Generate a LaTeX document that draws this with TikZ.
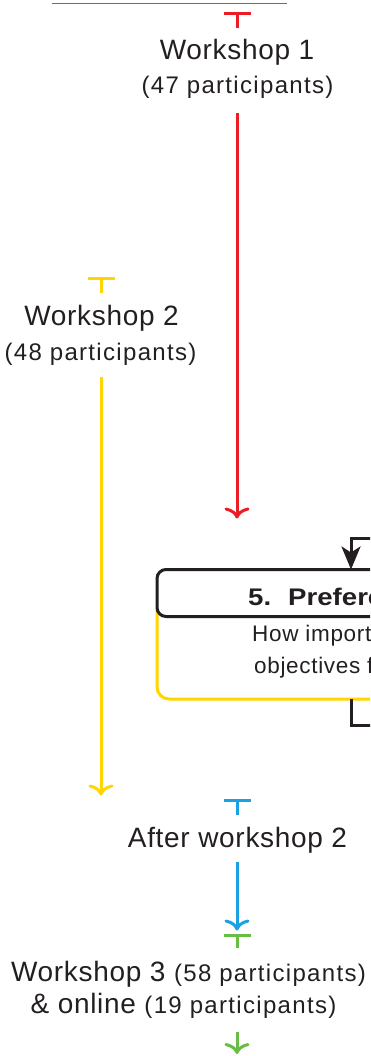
\documentclass[tikz,border=0pt]{standalone}
\usepackage{fontspec}
\usepackage{graphicx}
\setmainfont{Liberation Sans}
\newfontfamily\wsfont[LetterSpace=2.5]{Liberation Sans}
\newfontfamily\ptfont[LetterSpace=5.5]{Liberation Sans}
\newfontfamily\bxfont[LetterSpace=3]{Liberation Sans}
\usetikzlibrary{arrows.meta}
\definecolor{wred}{RGB}{237,28,36}
\definecolor{wyel}{RGB}{255,214,0}
\definecolor{wblue}{RGB}{27,161,226}
\definecolor{wgreen}{RGB}{104,190,69}
\definecolor{wtxt}{RGB}{35,31,32}
\definecolor{wgray}{RGB}{110,110,110}
\tikzset{
  big/.style={anchor=base, inner sep=0pt, text=wtxt, font=\wsfont\fontsize{28}{32}\selectfont},
  small/.style={anchor=base, inner sep=0pt, text=wtxt, font=\ptfont\fontsize{24}{28}\selectfont},
  flow/.style={line width=3pt, -{Computer Modern Rightarrow[length=11pt,width=25pt]}},
  stub/.style={line width=3pt, {Bar[width=27pt]}-},
  hdr/.style={draw=wtxt, fill=white, line width=3pt, rounded corners=9pt, anchor=north west, minimum width=300pt, minimum height=47pt, outer sep=0pt, inner sep=0pt},
  ybox/.style={draw=wyel, fill=white, line width=3pt, rounded corners=12pt, anchor=north west, minimum width=300pt, minimum height=99pt, outer sep=0pt, inner sep=0pt},
  bxt/.style={anchor=base west, inner sep=0pt, text=wtxt, font=\bxfont\fontsize{22.5}{26}\selectfont},
  blk/.style={draw=wtxt, line width=3pt},
}
\begin{document}
\begin{tikzpicture}[x=1pt,y=-1pt]
\useasboundingbox (0,0) rectangle (370,1056);
\clip (0,0) rectangle (370,1056);
% top rule
\coordinate (gl) at (52,3.5);
\coordinate (gr) at (287,3.5);
\draw[wgray, line width=1.5pt] (gl) -- (gr);
% workshop 1
\coordinate (r0) at (237,12);
\coordinate (r1) at (237,28);
\node[big] (w1) at (237,60) {Workshop 1};
\node[small] (w1p) at (237.5,94) {(47 participants)};
\coordinate (r2) at (237,113);
\coordinate (r3) at (237,518.5);
\draw[stub, wred] (r0) -- (r1);
\draw[flow, wred] (r2) -- (r3);
% workshop 2
\coordinate (y0) at (101,277);
\coordinate (y1) at (101,293);
\node[big] (w2) at (101.5,325) {Workshop 2};
\node[small] (w2p) at (100.5,360) {(48 participants)};
\coordinate (y2) at (101,377);
\coordinate (y3) at (101,795.5);
\draw[stub, wyel] (y0) -- (y1);
\draw[flow, wyel] (y2) -- (y3);
% box 5
\node[ybox] (yb) at (157,600) {};
\node[hdr] (hd) at (157,569.5) {};
\node[bxt, font=\bfseries\fontsize{24}{28}\selectfont] (t5) at (248,605.7) {\scalebox{1.15}[1]{5.\hspace{14.8pt}Preferences}};
\node[bxt] (t6) at (252,641.7) {How important};
\node[bxt] (t7) at (254,673) {objectives for};
\coordinate (bin) at (380,538.5);
\coordinate (btop) at (351,569.5);
\coordinate (bout) at (380,725);
\draw[blk, -{Stealth[length=23pt,width=19pt,inset=6pt]}] (bin) -| (btop);
\draw[blk] (yb.south -| btop) |- (bout);
% after workshop 2
\coordinate (b0) at (237,799);
\coordinate (b1) at (237,815);
\node[big] (aw) at (237.5,847) {After workshop 2};
\coordinate (b2) at (237,862);
\coordinate (b3) at (237,930.5);
\draw[stub, wblue] (b0) -- (b1);
\draw[flow, wblue] (b2) -- (b3);
% workshop 3
\coordinate (g0) at (237,934);
\coordinate (g1) at (237,948);
\node[big] (w3) at (188.5,981) {Workshop 3 {\ptfont\fontsize{24}{28}\selectfont(58 participants)}};
\node[big] (on) at (183.5,1013) {\& online {\ptfont\fontsize{24}{28}\selectfont(19 participants)}};
\coordinate (g2) at (237,1032);
\coordinate (g3) at (237,1054);
\draw[stub, wgreen] (g0) -- (g1);
\draw[flow, wgreen] (g2) -- (g3);
\end{tikzpicture}
\end{document}
